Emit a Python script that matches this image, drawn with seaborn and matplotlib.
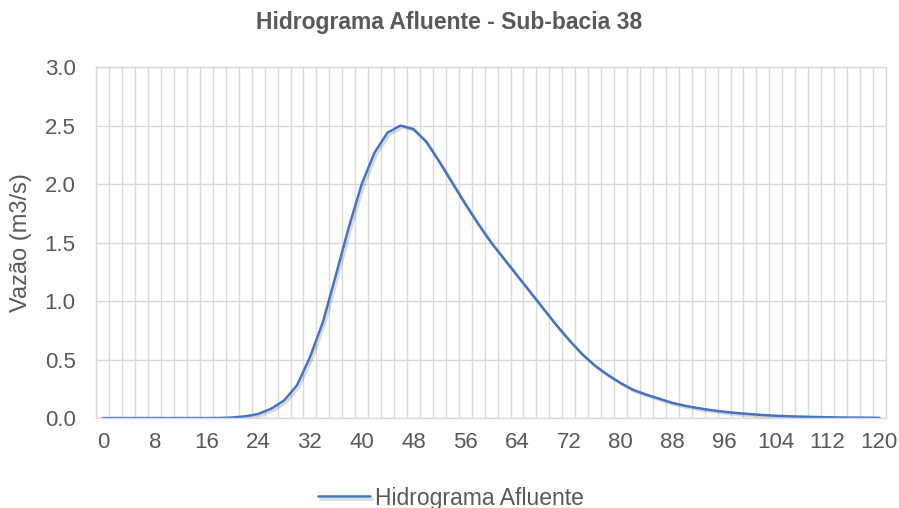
import matplotlib
matplotlib.use("Agg")
import matplotlib.pyplot as plt
import matplotlib.patheffects as pe
import numpy as np
import pandas as pd
import seaborn as sns

# Tempo (min) e vazao afluente (m3/s)
tempo = list(range(0, 121, 2))
vazao = [0.0, 0.0, 0.0, 0.0, 0.0, 0.0, 0.0, 0.0, 0.0,
         0.001, 0.005, 0.015, 0.035, 0.08, 0.15, 0.28, 0.52, 0.82,
         1.22, 1.63, 2.0, 2.27, 2.44, 2.50, 2.47, 2.36, 2.19, 2.01,
         1.83, 1.66, 1.50, 1.36, 1.22, 1.08, 0.94, 0.80, 0.67, 0.55,
         0.45, 0.37, 0.30, 0.24, 0.20, 0.165, 0.13, 0.105, 0.085,
         0.068, 0.054, 0.043, 0.034, 0.026, 0.020, 0.015, 0.012,
         0.009, 0.007, 0.005, 0.004, 0.003, 0.002]
x_labels = list(range(0, 121, 8))
y_ticks = [0.0, 0.5, 1.0, 1.5, 2.0, 2.5, 3.0]

df = pd.DataFrame({"Tempo": tempo, "Vazao": vazao})

sns.set_theme(style="white")
plt.rcParams["font.family"] = ["Liberation Sans", "DejaVu Sans"]

grey = "#595959"
grid = "#d9d9d9"

fig = plt.figure(figsize=(8.99, 5.08), dpi=100)
ax = fig.add_axes([0.1073, 0.177, 0.878, 0.691])

sns.lineplot(data=df, x="Tempo", y="Vazao", ax=ax, color="#4472C4",
             linewidth=1.8, label="Hidrograma Afluente",
             path_effects=[pe.SimpleLineShadow(offset=(1.5, -1.5), alpha=0.15, shadow_color="black"),
                           pe.Normal()])

ax.set_xlim(-1, 121)
ax.set_ylim(0, 3.0)
ax.set_xticks(x_labels)
ax.set_xticklabels([str(v) for v in x_labels])
ax.set_xticks(np.arange(-1, 122, 2), minor=True)
ax.set_yticks(y_ticks)
ax.set_yticklabels(["{:.1f}".format(v) for v in y_ticks])
ax.tick_params(axis="both", which="both", length=0, labelsize=16, colors=grey)
ax.tick_params(axis="x", pad=10)
ax.tick_params(axis="y", pad=15)

ax.grid(which="minor", axis="x", color=grid, linewidth=1)
ax.grid(which="major", axis="y", color=grid, linewidth=1)
for s in ax.spines.values():
    s.set_color(grid)
    s.set_linewidth(1)

ax.set_xlabel("")
ax.set_ylabel("Vazão (m3/s)", fontsize=17, color=grey, va="center")
ax.yaxis.set_label_coords(-0.0957, 0.5)
fig.text(0.5, 1 - 23 / 508, "Hidrograma Afluente - Sub-bacia 38", ha="center", va="center",
         fontsize=16.5, fontweight="bold", color=grey)

leg = ax.legend(loc="center", bbox_to_anchor=(451 / 899, 10 / 508),
                bbox_transform=fig.transFigure, frameon=False,
                fontsize=16.5, handlelength=2.27, handletextpad=0.22)
for t in leg.get_texts():
    t.set_color(grey)

fig.savefig("out.png", dpi=100)
